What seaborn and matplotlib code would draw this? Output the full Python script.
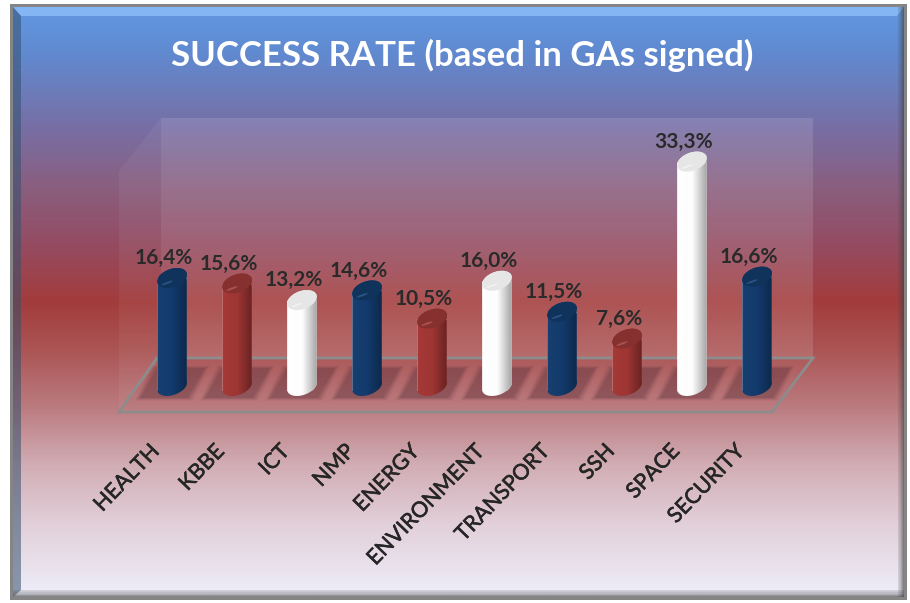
import numpy as np
import pandas as pd
import seaborn as sns
import matplotlib.pyplot as plt
import matplotlib.patheffects as pe
from matplotlib.colors import LinearSegmentedColormap
from matplotlib.patches import Polygon, Rectangle
from matplotlib.path import Path
from matplotlib.transforms import IdentityTransform, ScaledTranslation

categories = ["HEALTH", "KBBE", "ICT", "NMP", "ENERGY", "ENVIRONMENT", "TRANSPORT", "SSH", "SPACE", "SECURITY"]
rates = [16.4, 15.6, 13.2, 14.6, 10.5, 16.0, 11.5, 7.6, 33.3, 16.6]
labels = ["16,4%", "15,6%", "13,2%", "14,6%", "10,5%", "16,0%", "11,5%", "7,6%", "33,3%", "16,6%"]
families = ["blue", "red", "white", "blue", "red", "white", "blue", "red", "white", "blue"]

W, H = 910, 603
sns.set_style("white")
plt.rcParams["font.family"] = ["Lato", "DejaVu Sans"]

# left, middle and right shade of each cylinder, and its top cap
shades = {
    "blue": ["#174070", "#133a6c", "#0c2748"],
    "red": ["#a53a38", "#9e3634", "#622020"],
    "white": ["#ffffff", "#fdfdfd", "#9a9a9a"],
}
caps = {"blue": "#10335c", "red": "#86302f", "white": "#e6e6e6"}
glints = {"blue": "#2f5c8c", "red": "#b85a56", "white": "#f4f4f4"}
palette = dict(zip(categories, [shades[f][1] for f in families]))
thicken = [pe.withStroke(linewidth=0.4, foreground="#262626")]

fig = plt.figure(figsize=(W / 100, H / 100), dpi=100, facecolor="white")

# slide background, drawn in pixel coordinates
bg = fig.add_axes([0, 0, 1, 1], zorder=0)
bg.set_xlim(0, W)
bg.set_ylim(H, 0)
bg.axis("off")
stops = [(0.0, "#6098e2"), (0.08, "#6189cf"), (0.2, "#776fa6"), (0.3, "#895f80"), (0.4, "#944c62"),
         (0.5, "#a33c3c"), (0.58, "#ab5454"), (0.68, "#bb7c80"), (0.78, "#d2aeb6"), (0.88, "#e2d0da"), (1.0, "#eeeefa")]
grad = LinearSegmentedColormap.from_list("slide", stops)
bg.add_patch(Rectangle((10, 4), 897, 596, color="#858585", lw=0))
bg.imshow(np.linspace(0, 1, 256)[:, None], cmap=grad, aspect="auto", extent=(13, 904, 597, 7), zorder=1)
bg.set_xlim(0, W)
bg.set_ylim(H, 0)

# bevel round the slide
bg.add_patch(Polygon([(13, 7), (904, 7), (897, 16), (21, 16)], color="#8cbcf8", alpha=0.85, lw=0, zorder=2))
bg.add_patch(Polygon([(13, 7), (21, 16), (21, 590), (13, 597)], color="#34506e", alpha=0.55, lw=0, zorder=2))
for k, a in enumerate([0.16, 0.2, 0.28, 0.38, 0.5, 0.62]):
    bg.add_patch(Rectangle((898 + k, 7), 1, 590, color="#404040", alpha=a, lw=0, zorder=2))
    bg.add_patch(Rectangle((13, 590 + k * 7 / 6), 891, 1.2, color="#404040", alpha=a, lw=0, zorder=2))

# back wall and side wall of the 3D plot area
bg.add_patch(Polygon([(161, 118), (813, 118), (813, 358), (161, 358)], color="white", alpha=0.12, lw=0, zorder=2))
bg.add_patch(Polygon([(119, 171), (161, 118), (161, 358), (119, 412)], color="white", alpha=0.05, lw=0, zorder=2))
bg.add_patch(Polygon([(157, 358), (813, 358), (772, 412), (119, 412)], fill=False, ec="#8c8c8c", lw=2, zorder=3))

ax = fig.add_axes([139.5 / W, (H - 391) / H, 650 / W, 275.6 / H], zorder=1)
ax.patch.set_alpha(0)
df = pd.DataFrame({"category": categories, "rate": rates})
sns.barplot(data=df, x="category", y="rate", hue="category", palette=palette, dodge=False,
            width=31 / 65, saturation=1, legend=False, ax=ax)
ax.set_xlim(-0.5, 9.5)
ax.set_ylim(0, 40)
ax.set_xlabel("")
ax.set_ylabel("")
ax.set_yticks([])
sns.despine(ax=ax, left=True, bottom=True)

ax.set_xticks(range(len(categories)))
ax.set_xticklabels(categories, rotation=46, ha="right", va="top", rotation_mode="anchor",
                   fontsize=15.5, color="#262626", path_effects=thicken)
ax.tick_params(axis="x", length=0, pad=36)
for lab in ax.get_xticklabels():
    lab.set_transform(lab.get_transform() + ScaledTranslation(-16.5 / 72, 0, fig.dpi_scale_trans))


def half_ellipse(cx, cy, a, b, t0, t1, tilt=np.radians(20)):
    t = np.linspace(t0, t1, 40)
    x = a * np.cos(t) * np.cos(tilt) - b * np.sin(t) * np.sin(tilt)
    y = a * np.cos(t) * np.sin(tilt) + b * np.sin(t) * np.cos(tilt)
    return np.column_stack([cx + x, cy + y])


for bar, fam, lab in zip(ax.patches, families, labels):
    x0, w, v = bar.get_x(), bar.get_width(), bar.get_height()
    cx, top = ax.transData.transform((x0 + w / 2, v))
    _, base = ax.transData.transform((x0 + w / 2, 0))
    a = (ax.transData.transform((x0 + w, 0))[0] - ax.transData.transform((x0, 0))[0]) / 2
    b = 9

    # floor shadow, soft edge from stacked polygons
    for grow, al in [(3, 0.06), (1.5, 0.1), (0, 0.14), (-2, 0.2)]:
        bg.add_patch(Polygon([(cx - 17 - grow, 367 - grow / 2), (cx + 35 + grow, 367 - grow / 2),
                              (cx + 18 + grow, 399 + grow / 2), (cx - 34 - grow, 399 + grow / 2)],
                             color="#5a3038", alpha=al, lw=0, zorder=4))

    outline = np.vstack([half_ellipse(cx, base + 5, a, b, np.pi, 2 * np.pi),
                         half_ellipse(cx, top, a, b, 0, np.pi)])
    clip = Path(np.vstack([outline, outline[:1]]), closed=True)
    bar.set_clip_path(clip, IdentityTransform())

    # cylinder shading across the bar, allowed to round off below the axes
    cyl = LinearSegmentedColormap.from_list(fam, list(zip([0, 0.5, 1], shades[fam])))
    im = ax.imshow(np.linspace(0, 1, 64)[None, :], cmap=cyl, aspect="auto", zorder=3,
                   extent=(x0 - 0.01, x0 + w + 0.01, -2, v + 3))
    im.set_clip_box(fig.bbox)
    im.set_clip_path(clip, IdentityTransform())

    # top cap and its small highlight
    cap = np.vstack([half_ellipse(cx, top, a, b, 0, np.pi), half_ellipse(cx, top, a, b, np.pi, 2 * np.pi)])
    ax.add_patch(Polygon(cap, color=caps[fam], lw=0, zorder=4, transform=IdentityTransform()))
    glint = np.vstack([half_ellipse(cx - 5, top - 5, 6, 1.0, 0, np.pi), half_ellipse(cx - 5, top - 5, 6, 1.0, np.pi, 2 * np.pi)])
    ax.add_patch(Polygon(glint, color=glints[fam], lw=0, alpha=0.8, zorder=5, transform=IdentityTransform()))

    ax.annotate(lab, (x0 + w / 2, v), xytext=(-6, 7), textcoords="offset points", ha="center", va="bottom",
                fontsize=15, fontweight="bold", color="#2a2a2a", zorder=6, annotation_clip=False)

ax.set_xlim(-0.5, 9.5)
ax.set_ylim(0, 40)
ax.set_aspect("auto")

fig.text(462 / W, 1 - 55 / H, "SUCCESS RATE (based in GAs signed)", ha="center", va="center",
         color="white", fontsize=25, fontweight="bold", zorder=5)

fig.savefig("out.png", dpi=100)
plt.close(fig)
